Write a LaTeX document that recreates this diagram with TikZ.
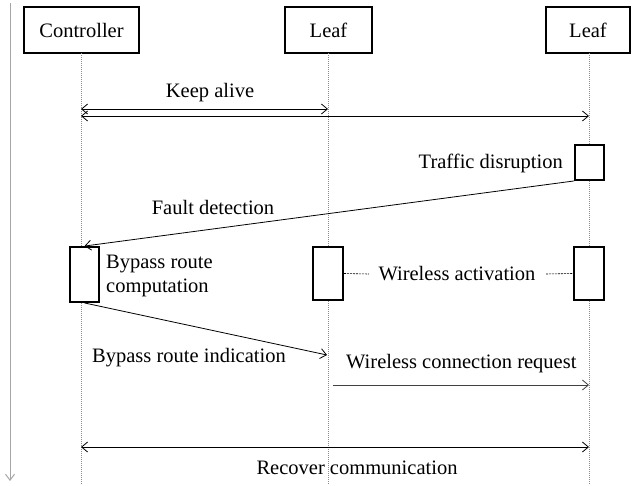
\documentclass[tikz,border=0pt]{standalone}
\usepackage{fontspec}
\setmainfont{Liberation Serif}
\usetikzlibrary{arrows.meta}
\begin{document}
\begin{tikzpicture}[x=1pt,y=-1pt,
  >={Straight Barb[length=6pt,width=10pt]},
  txt/.style={font=\fontsize{20.5}{24}\selectfont,inner sep=0pt},
  actor/.style={txt,draw,line width=1.9pt,fill=white,minimum height=46pt},
  act/.style={draw,line width=1.9pt,fill=white,inner sep=0pt},
  life/.style={black!45,line width=0.5pt,dash pattern=on 1pt off 1pt},
  msg/.style={line width=0.8pt,->},
  dmsg/.style={line width=0.8pt,<->},
  link/.style={line width=0.6pt,dash pattern=on 2pt off 1pt}]
\useasboundingbox (0,0) rectangle (632,485);

% time axis
\coordinate (t0) at (10,3);
\coordinate (t1) at (10,481);
\draw[black!35,line width=1pt,-{Straight Barb[length=6pt,width=9pt]}] (t0) -- (t1);

% participants
\node[actor,minimum width=115pt] (ctrl)  at (81.5,30) {Controller};
\node[actor,minimum width=87pt]  (leafA) at (328.5,30) {Leaf};
\node[actor,minimum width=84pt]  (leafB) at (588,30) {Leaf};

% lifelines
\coordinate (ctrlEnd)  at (81,485);
\coordinate (leafAEnd) at (328,485);
\coordinate (leafBEnd) at (589,485);
\draw[life] (81,53) -- (ctrlEnd);
\draw[life] (328,53) -- (leafAEnd);
\draw[life] (589,53) -- (leafBEnd);

% keep alive
\coordinate (kaC1) at (81,109);  \coordinate (kaA) at (328,109);
\coordinate (kaC2) at (81,116);  \coordinate (kaB) at (589,116);
\draw[dmsg] (kaC1) -- (kaA);
\draw[dmsg] (kaC2) -- (kaB);
\node[txt] (kalbl) at (210,93) {Keep alive};

% traffic disruption
\node[act,minimum width=29pt,minimum height=35pt] (tdis) at (589.5,162.5) {};
\node[txt,anchor=east] (tdislbl) at (563,163) {Traffic disruption};

% activations
\node[act,minimum width=29pt,minimum height=55pt] (cact)  at (84.5,274.5) {};
\node[act,minimum width=30pt,minimum height=53pt] (aact)  at (328,273.5) {};
\node[act,minimum width=30pt,minimum height=53pt] (bact)  at (589,273.5) {};

% fault detection
\draw[msg] (tdis.south west) -- (cact.north);
\node[txt] (fdlbl) at (213,207) {Fault detection};

% bypass route computation
\node[txt,anchor=west,align=left] (brc) at (106,276) {Bypass route\\computation};

% wireless activation
\node[txt] (walbl) at (457,274) {Wireless activation};
\coordinate (waL) at (369,274);
\coordinate (waR) at (546,274);
\draw[link] (aact.east) -- (waL);
\draw[link] (waR) -- (bact.west);

% bypass route indication
\coordinate (briEnd) at (327,355);
\draw[msg] (cact.south) -- (briEnd);
\node[txt,anchor=west] (brilbl) at (92,358) {Bypass route indication};

% wireless connection request
\coordinate (wcrS) at (333,385);
\coordinate (wcrE) at (589,385);
\draw[msg,black!75] (wcrS) -- (wcrE);
\node[txt,anchor=west] (wcrlbl) at (346,364) {Wireless connection request};

% recover communication
\coordinate (rcC) at (81,447);
\coordinate (rcB) at (589,447);
\draw[dmsg] (rcC) -- (rcB);
\node[txt] (rclbl) at (357,468) {Recover communication};
\end{tikzpicture}
\end{document}
